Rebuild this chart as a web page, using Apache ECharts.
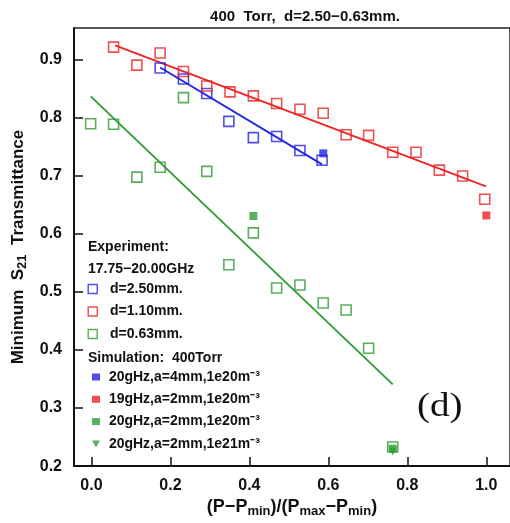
<!DOCTYPE html>
<html>
<head>
<meta charset="utf-8">
<script src="https://cdn.jsdelivr.net/npm/echarts@6/dist/echarts.min.js"></script>
<style>html,body{margin:0;padding:0;background:#fff}#c{width:510px;height:523px}</style>
</head>
<body>
<div id="c"></div>
<script>
// ---- data ----
const xTicks = [0.0, 0.2, 0.4, 0.6, 0.8, 1.0];
const yTicks = [0.2, 0.3, 0.4, 0.5, 0.6, 0.7, 0.8, 0.9];

const expBlue = [[0.174,0.886],[0.233,0.867],[0.292,0.842],[0.348,0.794],[0.410,0.766],[0.469,0.768],[0.528,0.744],[0.584,0.727]];
const expRed = [[0.056,0.922],[0.115,0.891],[0.174,0.912],[0.233,0.880],[0.292,0.855],[0.351,0.845],[0.410,0.838],[0.469,0.825],[0.528,0.815],[0.587,0.808],[0.645,0.771],[0.702,0.770],[0.763,0.741],[0.822,0.741],[0.881,0.710],[0.940,0.700],[0.996,0.660]];
const expGreen = [[-0.002,0.790],[0.056,0.789],[0.115,0.698],[0.174,0.715],[0.233,0.835],[0.292,0.708],[0.348,0.547],[0.410,0.602],[0.469,0.507],[0.528,0.512],[0.587,0.481],[0.645,0.469],[0.702,0.403],[0.763,0.233]];

const simBlue = [[0.587,0.739]];
const simRed = [[1.000,0.632]];
const simGreen = [[0.410,0.631],[0.763,0.230]];
const simGreenTri = [[0.763,0.225]];

const fitBlue = [[0.174,0.887],[0.584,0.720]];
const fitRed = [[0.060,0.925],[0.999,0.682]];
const fitGreen = [[-0.002,0.837],[0.763,0.341]];

const names = {
  eb: 'd=2.50mm.', er: 'd=1.10mm.', eg: 'd=0.63mm.',
  sb: '20gHz,a=4mm,1e20m⁻³', sr: '19gHz,a=2mm,1e20m⁻³',
  sg: '20gHz,a=2mm,1e20m⁻³', st: '20gHz,a=2mm,1e21m⁻³ '
};

const BLUE = '#2222e6', RED = '#ec2424', GREEN = '#2f9a33';
const FONT = 'Liberation Sans';
const TRI_DOWN = 'path://M0,0 L10,0 L5,9 Z';

function openSq(name, data, color) {
  return { name, type: 'scatter', data, symbol: 'rect', symbolSize: 10,
    itemStyle: { color: 'rgba(255,255,255,0)', borderColor: color, borderWidth: 1.6 }, z: 3 };
}
function filled(name, data, color, symbol) {
  return { name, type: 'scatter', data, symbol: symbol || 'rect', symbolSize: 8,
    itemStyle: { color }, z: 4 };
}
function fit(data, color) {
  return { type: 'line', data, symbol: 'none', lineStyle: { color, width: 1.8 }, z: 2, silent: true };
}
const openIcon = c => ({ color: 'rgba(255,255,255,0)', borderColor: c, borderWidth: 1.4 });

const chart = echarts.init(document.getElementById('c'), null, { renderer: 'canvas' });
chart.setOption({
  animation: false,
  backgroundColor: '#fff',
  textStyle: { fontFamily: FONT },
  title: {
    text: '400  Torr,  d=2.50−0.63mm.', left: 300, textAlign: 'center', top: 4,
    textStyle: { fontFamily: FONT, fontSize: 15, fontWeight: 'bold', color: '#111' }
  },
  grid: { left: 74, right: -14, top: 28, bottom: 55, show: true, borderColor: '#222', borderWidth: 1.5, backgroundColor: 'transparent' },
  xAxis: {
    type: 'value', min: -0.0442, max: 1.06,
    name: '(P−P{s|min})/(P{s|max}−P{s|min})', nameLocation: 'middle', nameGap: 29,
    nameTextStyle: { fontFamily: FONT, fontSize: 18, fontWeight: 'bold', color: '#111',
      rich: { s: { fontFamily: FONT, fontSize: 13, fontWeight: 'bold', color: '#111', padding: [9, 0, 0, 0] } } },
    axisLine: { onZero: false, lineStyle: { color: '#111', width: 2 } },
    axisTick: { inside: true, length: 9, lineStyle: { color: '#111', width: 1.5 }, customValues: xTicks },
    axisLabel: { customValues: xTicks, margin: 11, fontFamily: FONT, fontSize: 16, fontWeight: 'bold', color: '#111',
      formatter: v => v.toFixed(1) },
    splitLine: { show: false }
  },
  yAxis: {
    type: 'value', min: 0.2, max: 0.955,
    name: 'Minimum  S{s|21}  Transmittance', nameLocation: 'middle', nameGap: 33,
    nameTextStyle: { fontFamily: FONT, fontSize: 17, fontWeight: 'bold', color: '#111',
      rich: { s: { fontFamily: FONT, fontSize: 13, fontWeight: 'bold', color: '#111', padding: [9, 0, 0, 0] } } },
    axisLine: { onZero: false, lineStyle: { color: '#111', width: 2 } },
    axisTick: { inside: true, length: 9, lineStyle: { color: '#111', width: 1.5 }, customValues: yTicks },
    axisLabel: { customValues: yTicks, margin: 12, fontFamily: FONT, fontSize: 16, fontWeight: 'bold', color: '#111',
      formatter: v => v.toFixed(1) },
    splitLine: { show: false }
  },
  legend: [
    {
      orient: 'vertical', left: 87.5, top: 282, padding: 0, itemWidth: 9, itemHeight: 9, itemGap: 8.5,
      data: [
        { name: names.eb, itemStyle: openIcon(BLUE) },
        { name: names.er, itemStyle: openIcon(RED) },
        { name: names.eg, itemStyle: openIcon(GREEN) }
      ],
      formatter: n => '  ' + n,
      textStyle: { fontFamily: FONT, fontSize: 14, fontWeight: 'bold', color: '#111' },
      selectedMode: false
    },
    {
      orient: 'vertical', left: 92, top: 370, padding: 0, itemWidth: 8, itemHeight: 7, itemGap: 8.3,
      data: [names.sb, names.sr, names.sg, { name: names.st, icon: TRI_DOWN }],
      formatter: n => ' ' + n,
      textStyle: { fontFamily: FONT, fontSize: 14, fontWeight: 'bold', color: '#111', padding: [5, 0, 0, 0] },
      selectedMode: false
    }
  ],
  graphic: [
    { type: 'text', left: 88, top: 240, style: { text: 'Experiment:', font: 'bold 14px "Liberation Sans"', fill: '#111' } },
    { type: 'text', left: 88, top: 262, style: { text: '17.75−20.00GHz', font: 'bold 14px "Liberation Sans"', fill: '#111' } },
    { type: 'text', left: 88, top: 351, style: { text: 'Simulation:  400Torr', font: 'bold 14px "Liberation Sans"', fill: '#111' } },
    { type: 'text', x: 417, y: 390, scaleX: 1.15, style: { text: '(d)', font: '34px "Liberation Serif"', fill: '#111' } }
  ],
  series: [
    fit(fitBlue, BLUE), fit(fitRed, RED), fit(fitGreen, GREEN),
    openSq(names.eb, expBlue, BLUE),
    openSq(names.er, expRed, RED),
    openSq(names.eg, expGreen, GREEN),
    filled(names.sb, simBlue, BLUE),
    filled(names.sr, simRed, RED),
    filled(names.sg, simGreen, GREEN),
    filled(names.st, simGreenTri, GREEN, TRI_DOWN)
  ]
});
</script>
</body>
</html>
